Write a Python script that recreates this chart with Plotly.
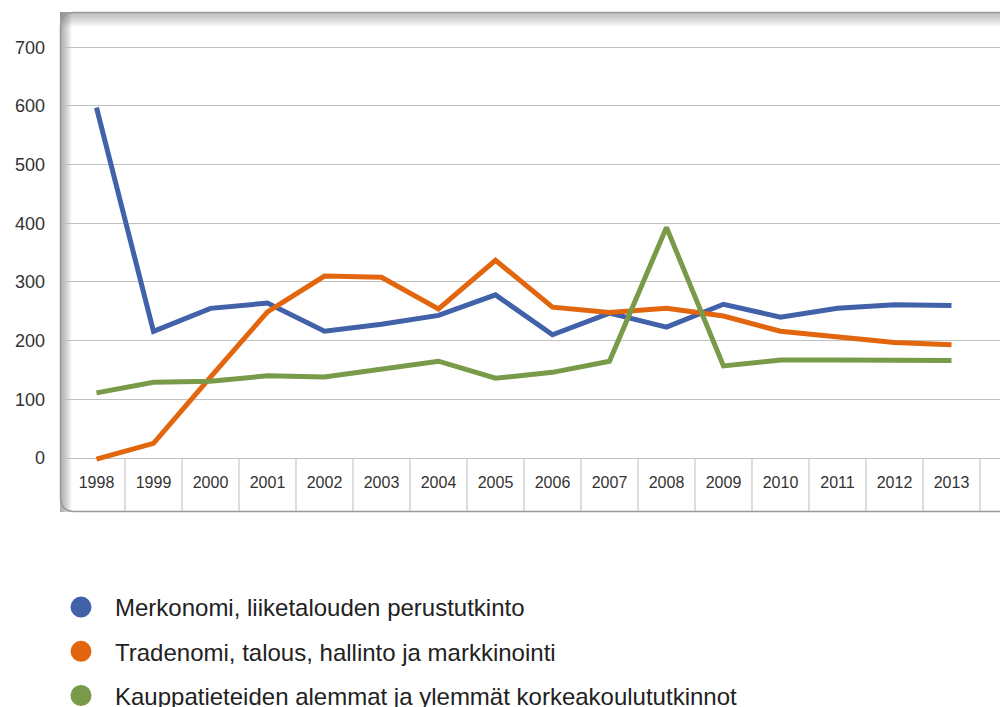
import plotly.graph_objects as go

years = ["1998", "1999", "2000", "2001", "2002", "2003", "2004", "2005",
         "2006", "2007", "2008", "2009", "2010", "2011", "2012", "2013"]
merkonomi = [597, 216, 255, 264, 216, 228, 243, 278, 210, 247, 223, 262, 240, 255, 261, 260]
tradenomi = [-2, 25, 138, 249, 310, 308, 254, 337, 257, 248, 255, 242, 216, 206, 197, 193]
kauppa = [111, 129, 131, 140, 138, 151, 165, 136, 146, 165, 393, 157, 167, 167, 166, 166]

names = ["Merkonomi, liiketalouden perustutkinto",
         "Tradenomi, talous, hallinto ja markkinointi",
         "Kauppatieteiden alemmat ja ylemmät korkeakoulututkinnot"]
colors = ["#4161A9", "#E2660E", "#789A49"]
series = [merkonomi, tradenomi, kauppa]

W, H = 1008, 707
OFF = 8  # page body margin
L, R, T, B = 52, 0, 4, 203
pw, ph = W - L - R, H - T - B


def px_x(p):
    return (p - OFF - L) / pw


def px_y(p):
    return (H - B - (p - OFF)) / ph


fig = go.Figure()
xs = list(range(len(years)))
for name, col, vals in zip(names, colors, series):
    fig.add_trace(go.Scatter(x=xs, y=vals, mode="lines", name=name,
                             line=dict(color=col, width=5), showlegend=False,
                             hoverinfo="x+y"))
for i, (name, col) in enumerate(zip(names, colors)):
    fig.add_trace(go.Scatter(x=[None], y=[None], mode="markers", name=name,
                             marker=dict(color=col, size=16, line=dict(color=col, width=5)),
                             legendgroup=str(i), showlegend=True))

shapes = []
# inner shadow on left/top edges
for k in range(1, 9):
    shapes.append(dict(type="rect", xref="paper", yref="paper", layer="below",
                       x0=px_x(60), x1=px_x(60 + k * 1.4), y0=px_y(512), y1=px_y(12),
                       fillcolor="rgba(110,110,110,0.085)", line=dict(width=0)))
    shapes.append(dict(type="rect", xref="paper", yref="paper", layer="below",
                       x0=px_x(60), x1=px_x(1030), y0=px_y(12 + k * 1.8), y1=px_y(12),
                       fillcolor="rgba(110,110,110,0.07)", line=dict(width=0)))

# category separators in the x-axis band
for i in range(len(years)):
    shapes.append(dict(type="line", xref="x", yref="y", layer="below",
                       x0=i + 0.5, x1=i + 0.5, y0=-92, y1=0,
                       line=dict(color="#c8c8c8", width=1.2)))

# rounded frame
r = 14
x0, x1, y0, y1 = 60.5, 1030, 12.5, 511.5
path = (f"M {px_x(x0 + r)},{px_y(y0)} L {px_x(x1)},{px_y(y0)} "
        f"M {px_x(x0 + r)},{px_y(y0)} Q {px_x(x0)},{px_y(y0)} {px_x(x0)},{px_y(y0 + r)} "
        f"L {px_x(x0)},{px_y(y1 - r)} Q {px_x(x0)},{px_y(y1)} {px_x(x0 + r)},{px_y(y1)} "
        f"L {px_x(x1)},{px_y(y1)}")
shapes.append(dict(type="path", xref="paper", yref="paper", path=path, layer="above",
                   line=dict(color="#999999", width=1.5)))

fig.update_layout(
    width=W, height=H,
    margin=dict(l=L, r=R, t=T, b=B, autoexpand=False),
    paper_bgcolor="white", plot_bgcolor="white",
    font=dict(family="Liberation Sans, Arial, sans-serif", color="#333333"),
    shapes=shapes,
    showlegend=True,
    legend=dict(x=px_x(47), y=px_y(585), xanchor="left", yanchor="top",
                font=dict(size=24, color="#222222"), tracegroupgap=10,
                itemwidth=58, bgcolor="rgba(0,0,0,0)"),
    xaxis=dict(range=[-0.64, -0.64 + pw / 57.0], tickmode="array", tickvals=xs, ticktext=years,
               showgrid=False, zeroline=False, showline=False, ticks="",
               ticklabelposition="inside", ticklabelstandoff=18,
               tickfont=dict(size=16, color="#333333")),
    yaxis=dict(range=[-92, 760], tickmode="array", tickvals=[0, 100, 200, 300, 400, 500, 600, 700],
               showgrid=True, gridcolor="#c0c0c0", gridwidth=1.2, zeroline=False,
               showline=False, ticks="", ticklabelstandoff=14,
               tickfont=dict(size=18, color="#333333")),
)

fig.write_html("out.html")
